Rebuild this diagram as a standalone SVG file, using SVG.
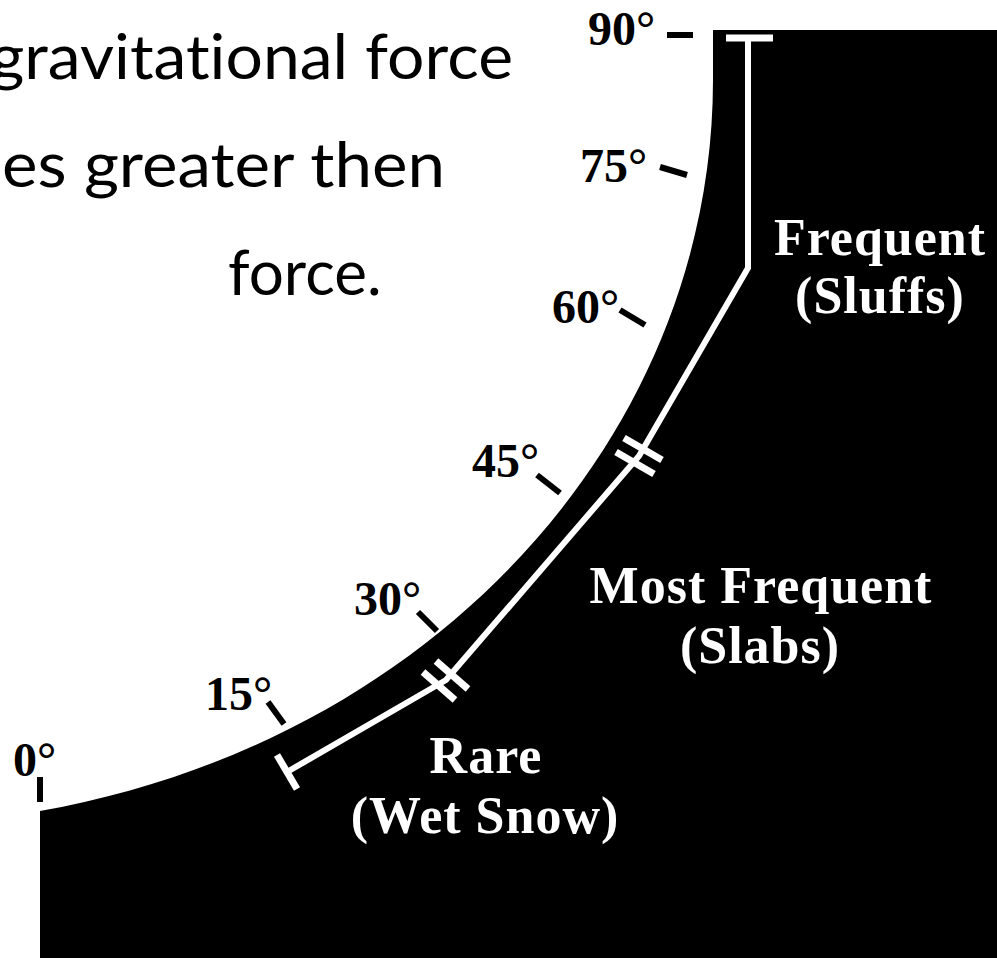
<svg xmlns="http://www.w3.org/2000/svg" width="997" height="958" viewBox="0 0 997 958">
<style>
.cap{font-family:Lato,"Liberation Sans",sans-serif;font-size:62px;fill:#000;font-variant-ligatures:none;font-feature-settings:"liga" 0}
.deg{font-family:"Liberation Serif","Times New Roman",serif;font-weight:bold;font-size:48px;fill:#000}
.zone{font-family:"Liberation Serif","Times New Roman",serif;font-weight:bold;font-size:52px;fill:#fff;text-anchor:middle;letter-spacing:1px}
.dash{stroke:#000;stroke-width:6;fill:none}
.wl{stroke:#fff;stroke-width:6;fill:none;stroke-linejoin:miter}
.bar{stroke:#fff;stroke-width:7;fill:none}
</style>
<rect width="997" height="958" fill="#fff"/>
<g id="caption">
<text class="cap" x="-10" y="79" textLength="523" lengthAdjust="spacingAndGlyphs">gravitational force</text>
<text class="cap" x="2" y="187" textLength="443" lengthAdjust="spacingAndGlyphs">es greater then</text>
<text class="cap" x="228" y="295">force.</text>
</g>
<g id="slope">
<path d="M713,30 L713,80 C713,430 440,740 40,811 L40,958 L997,958 L997,30 Z" fill="#000"/>
</g>
<g id="connectors">
<path class="wl" d="M748,38 L748,268 L639,456 L446,680 L287,772"/>
<line class="bar" x1="726" y1="38" x2="773" y2="38"/>
<line class="bar" x1="624" y1="438" x2="662" y2="460"/>
<line class="bar" x1="616" y1="452" x2="654" y2="474"/>
<line class="bar" x1="436" y1="661" x2="468" y2="689"/>
<line class="bar" x1="423" y1="672" x2="455" y2="700"/>
<line class="bar" x1="277" y1="755" x2="297" y2="789"/>
</g>
<g id="angle-90"><text class="deg" x="588" y="45">90°</text><line class="dash" x1="667" y1="35" x2="693" y2="35"/></g>
<g id="angle-75"><text class="deg" x="580" y="182">75°</text><line class="dash" x1="660" y1="167" x2="687" y2="175"/></g>
<g id="angle-60"><text class="deg" x="552" y="323">60°</text><line class="dash" x1="620" y1="310" x2="645" y2="325"/></g>
<g id="angle-45"><text class="deg" x="472" y="477">45°</text><line class="dash" x1="537" y1="475" x2="560" y2="493"/></g>
<g id="angle-30"><text class="deg" x="354" y="615">30°</text><line class="dash" x1="418" y1="612" x2="437" y2="631"/></g>
<g id="angle-15"><text class="deg" x="205" y="710">15°</text><line class="dash" x1="268" y1="702" x2="284" y2="724"/></g>
<g id="angle-0"><text class="deg" x="13" y="776">0°</text><line class="dash" x1="40" y1="777" x2="40" y2="802"/></g>
<g id="zone-frequent">
<text class="zone" x="880" y="255">Frequent</text>
<text class="zone" x="880" y="313">(Sluffs)</text>
</g>
<g id="zone-most-frequent">
<text class="zone" x="761" y="603">Most Frequent</text>
<text class="zone" x="760" y="663">(Slabs)</text>
</g>
<g id="zone-rare">
<text class="zone" x="486" y="773">Rare</text>
<text class="zone" x="485" y="833">(Wet Snow)</text>
</g>
</svg>
